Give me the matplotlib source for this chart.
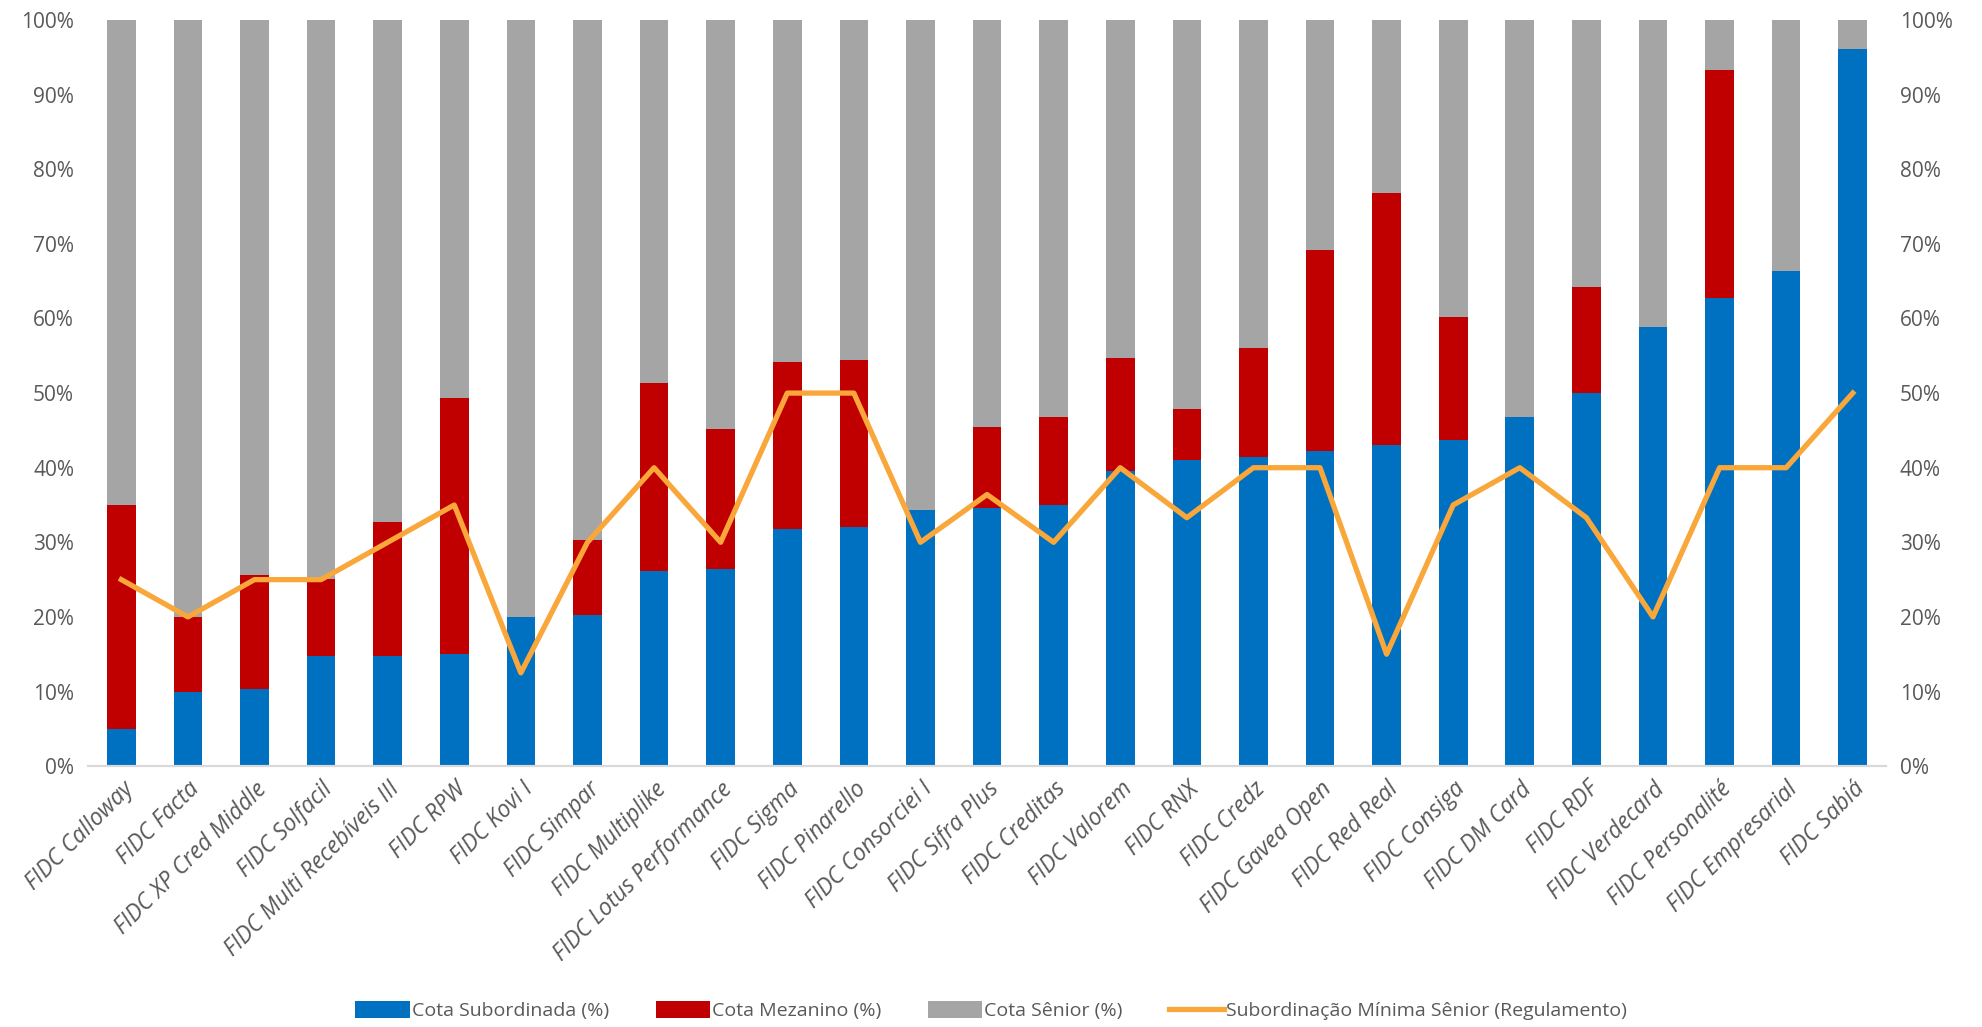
import matplotlib.pyplot as plt
import numpy as np
from matplotlib.ticker import PercentFormatter

# --- DATA (values in %) ---
funds = ['FIDC Calloway', 'FIDC Facta', 'FIDC XP Cred Middle', 'FIDC Solfacil',
         'FIDC Multi Recebíveis III', 'FIDC RPW', 'FIDC Kovi I', 'FIDC Simpar',
         'FIDC Multiplike', 'FIDC Lotus Performance', 'FIDC Sigma', 'FIDC Pinarello',
         'FIDC Consorciei I', 'FIDC Sifra Plus', 'FIDC Creditas', 'FIDC Valorem',
         'FIDC RNX', 'FIDC Credz', 'FIDC Gavea Open', 'FIDC Red Real', 'FIDC Consiga',
         'FIDC DM Card', 'FIDC RDF', 'FIDC Verdecard', 'FIDC Personalité',
         'FIDC Empresarial', 'FIDC Sabiá']
subordinada = [5.0, 10.0, 10.4, 14.8, 14.8, 15.0, 20.0, 20.2, 26.1, 26.4, 31.8, 32.1,
               34.3, 34.6, 35.0, 39.5, 41.0, 41.5, 42.2, 43.1, 43.7, 46.8, 50.0, 58.9,
               62.8, 66.3, 96.1]
mezanino = [30.0, 10.0, 15.2, 10.3, 17.9, 34.3, 0.0, 10.1, 25.3, 18.8, 22.4, 22.3,
            0.0, 10.9, 11.8, 15.2, 6.8, 14.6, 27.0, 33.7, 16.5, 0.0, 14.2, 0.0,
            30.5, 0.0, 0.0]
minima_senior = [25, 20, 25, 25, 30, 35, 12.5, 30, 40, 30, 50, 50, 30, 36.4, 30, 40,
                 33.3, 40, 40, 15, 35, 40, 33.3, 20, 40, 40, 50]

senior = [100 - s - m for s, m in zip(subordinada, mezanino)]
x = np.arange(len(funds))

# --- PLOTTING ---
plt.rcParams['font.family'] = ['Open Sans', 'DejaVu Sans']
fig = plt.figure(figsize=(19.82, 10.27), dpi=100)
ax1 = fig.add_axes([0.0444, 0.254, 0.9072, 0.7265])

width = 0.43
ax1.bar(x, subordinada, width, color='#0070C0', label='Cota Subordinada (%)')
ax1.bar(x, mezanino, width, bottom=subordinada, color='#C00000', label='Cota Mezanino (%)')
bottom2 = [s + m for s, m in zip(subordinada, mezanino)]
ax1.bar(x, senior, width, bottom=bottom2, color='#A5A5A5', label='Cota Sênior (%)')

ax2 = ax1.twinx()
ax2.plot(x, minima_senior, color='#F9A73A', linewidth=3.8, solid_joinstyle='round',
         label='Subordinação Mínima Sênior (Regulamento)')

for ax in (ax1, ax2):
    ax.set_ylim(0, 100)
    ax.set_yticks(np.arange(0, 101, 10))
    ax.yaxis.set_major_formatter(PercentFormatter(decimals=0))
    ax.tick_params(axis='y', length=0, labelsize=15, labelcolor='#595959', pad=10)
    for s in ('top', 'left', 'right'):
        ax.spines[s].set_visible(False)
    ax.spines['bottom'].set_color('#D9D9D9')
    ax.spines['bottom'].set_linewidth(1.5)

ax1.set_xlim(-0.5, len(funds) - 0.5)
ax1.set_xticks(x)
ax1.set_xticklabels(funds, rotation=45, ha='right', rotation_mode='anchor',
                    fontsize=16.5, color='#595959', style='italic')
ax1.tick_params(axis='x', length=0, pad=8)

h1, l1 = ax1.get_legend_handles_labels()
h2, l2 = ax2.get_legend_handles_labels()
fig.legend(h1 + h2, l1 + l2, loc='center', bbox_to_anchor=(0.5, 0.016), ncol=4,
           frameon=False, fontsize=14, labelcolor='#595959', columnspacing=2.4,
           handlelength=2.8, handletextpad=0.1, handleheight=1.0)

plt.savefig('out.png', dpi=100)
